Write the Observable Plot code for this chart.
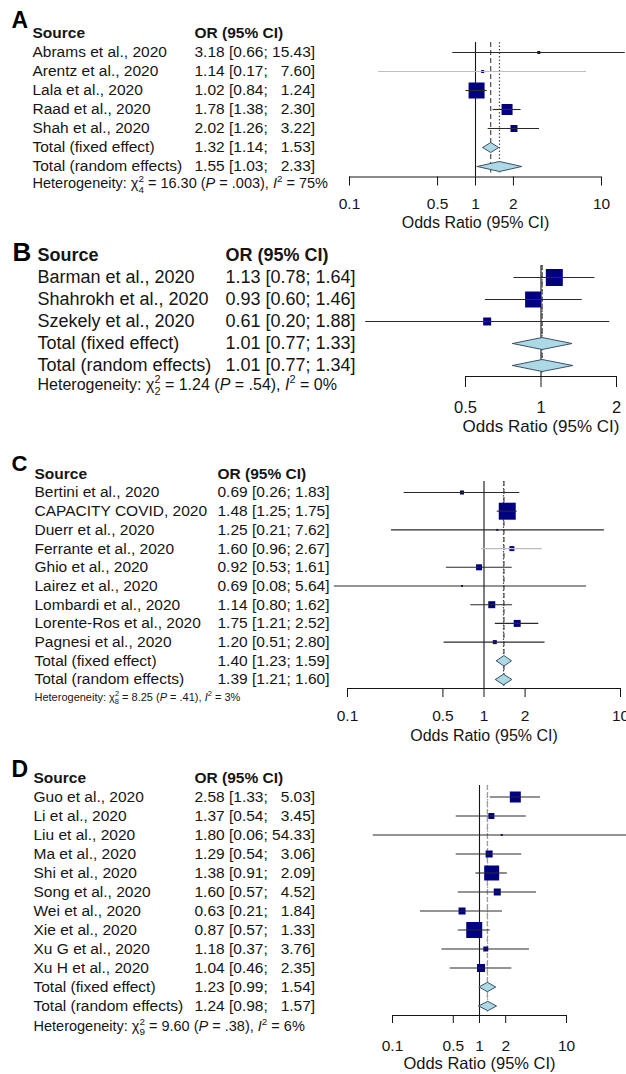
<!DOCTYPE html>
<html><head><meta charset="utf-8">
<script src="https://cdn.jsdelivr.net/npm/d3@7"></script>
<script src="https://cdn.jsdelivr.net/npm/@observablehq/plot@0.6"></script>
<style>
html,body{margin:0;padding:0;background:#fff;}
#chart{width:626px;}
#chart svg{display:block;}
</style></head><body><div id="chart"></div>
<script>
// ---------- Panel A ----------
const studiesA = ["Abrams et al., 2020","Arentz et al., 2020","Lala et al., 2020","Raad et al., 2020","Shah et al., 2020"];
const orA = [3.18,1.14,1.02,1.78,2.02];
const lowerA = [0.66,0.17,0.84,1.38,1.26];
const upperA = [15.43,7.60,1.24,2.30,3.22];
const weightA = [2.0,2.0,57.7,27.3,11.0];
const fixedA = [1.32,1.14,1.53];
const randomA = [1.55,1.03,2.33];
const hetA = ["4","16.30",".003","75%"];
const ticksA = [0.1,0.5,1,2,10];

// ---------- Panel B ----------
const studiesB = ["Barman et al., 2020","Shahrokh et al., 2020","Szekely et al., 2020"];
const orB = [1.13,0.93,0.61];
const lowerB = [0.78,0.60,0.20];
const upperB = [1.64,1.46,1.88];
const weightB = [47.5,42.0,10.5];
const fixedB = [1.01,0.77,1.33];
const randomB = [1.01,0.77,1.34];
const hetB = ["2","1.24",".54","0%"];
const ticksB = [0.5,1,2];

// ---------- Panel C ----------
const studiesC = ["Bertini et al., 2020","CAPACITY COVID, 2020","Duerr et al., 2020","Ferrante et al., 2020","Ghio et al., 2020","Lairez et al., 2020","Lombardi et al., 2020","Lorente-Ros et al., 2020","Pagnesi et al., 2020"];
const orC = [0.69,1.48,1.25,1.60,0.92,0.69,1.14,1.75,1.20];
const lowerC = [0.26,1.25,0.21,0.96,0.53,0.08,0.80,1.21,0.51];
const upperC = [1.83,1.75,7.62,2.67,1.61,5.64,1.62,2.52,2.80];
const weightC = [3.3,59.2,0.8,5.1,7.4,0.8,10.0,10.0,3.3];
const fixedC = [1.40,1.23,1.59];
const randomC = [1.39,1.21,1.60];
const hetC = ["8","8.25",".41","3%"];
const ticksC = [0.1,0.5,1,2,10];

// ---------- Panel D ----------
const studiesD = ["Guo et al., 2020","Li et al., 2020","Liu et al., 2020","Ma et al., 2020","Shi et al., 2020","Song et al., 2020","Wei et al., 2020","Xie et al., 2020","Xu G et al., 2020","Xu H et al., 2020"];
const orD = [2.58,1.37,1.80,1.29,1.38,1.60,0.63,0.87,1.18,1.04];
const lowerD = [1.33,0.54,0.06,0.54,0.91,0.57,0.21,0.57,0.37,0.46];
const upperD = [5.03,3.45,54.33,3.06,2.09,4.52,1.84,1.33,3.76,2.35];
const weightD = [13.8,4.1,0.5,5.6,25.6,5.6,5.6,29.2,2.8,7.3];
const fixedD = [1.23,0.99,1.54];
const randomD = [1.24,0.98,1.57];
const hetD = ["9","9.60",".38","6%"];
const ticksD = [0.1,0.5,1,2,10];

const faintCI = new Set(["Arentz et al., 2020","Ferrante et al., 2020"]);
const FONT = "'Liberation Sans', Arial, Helvetica, sans-serif";
const INK = "#151515";

function forest(letter, studies, or, lower, upper, weight, fixed, random, het, ticks, L) {
  const k = studies.length;
  const rows = studies.map((s, i) => ({y: i + 1, name: s, or: or[i], lo: lower[i], hi: upper[i], w: weight[i]}));
  const sums = [
    {y: k + 1, name: "Total (fixed effect)", or: fixed[0], lo: fixed[1], hi: fixed[2]},
    {y: k + 2, name: "Total (random effects)", or: random[0], lo: random[1], hi: random[2]}
  ];
  const all = rows.concat(sums);
  const hiLen = d3.max(all, d => d.hi.toFixed(2).length);
  const fmt = d => `${d.or.toFixed(2)} [${d.lo.toFixed(2)}; ${"\u00A0\u00A0".repeat(hiLen - d.hi.toFixed(2).length)}${d.hi.toFixed(2)}]`;
  const hd = L.diamond / L.step;
  const diamonds = sums.flatMap((d, j) => [
    {z: j, x: d.lo, y: d.y}, {z: j, x: d.or, y: d.y - hd}, {z: j, x: d.hi, y: d.y},
    {z: j, x: d.or, y: d.y + hd}, {z: j, x: d.lo, y: d.y}
  ]);
  const toRow = px => (px - L.header) / L.step;
  const axisRow = toRow(L.axis);
  const topRow = toRow(L.refTop);
  const dashEnd = k + 2 + (L.diamond + 1.5) / L.step;
  const x0 = ticks[0], x1 = ticks[ticks.length - 1];
  const dxName = L.colName - L.left, dxOR = L.colOR - L.left;

  const svg = Plot.plot({
    width: 626, height: L.height,
    marginLeft: L.left, marginRight: 626 - L.right, marginTop: 0, marginBottom: L.height - L.axis,
    style: {fontFamily: FONT, fontSize: L.tickFont + "px", color: INK, background: "#fff", overflow: "visible"},
    x: {type: "log", domain: [x0, x1], ticks: ticks, tickFormat: d => String(d), tickSize: L.tickSize, tickPadding: L.tickPad, label: null},
    y: {domain: [0, 1], range: [L.header, L.header + L.step], axis: null},
    r: {type: "sqrt", domain: [0, d3.max(weight)], range: [0, L.box / Math.sqrt(Math.PI)]},
    marks: [
      // reference lines
      Plot.ruleX([{x: 1, a: topRow, b: axisRow}], {x: "x", y1: "a", y2: "b", stroke: INK, strokeWidth: 1.1}),
      Plot.ruleX([{x: fixed[0], a: topRow, b: dashEnd}], {x: "x", y1: "a", y2: "b", stroke: L.dashColor, strokeWidth: 1.2, strokeDasharray: "5,3"}),
      Plot.ruleX([{x: random[0], a: topRow, b: dashEnd}], {x: "x", y1: "a", y2: "b", stroke: L.dashColor, strokeWidth: 1.2, strokeDasharray: "1.5,2"}),
      // axis line
      Plot.ruleY([{y: axisRow, a: x0, b: x1}], {y: "y", x1: "a", x2: "b", stroke: INK, strokeWidth: 1}),
      // study boxes
      Plot.dot(rows, {x: "or", y: "y", r: "w", symbol: "square", fill: "#000080", stroke: "none"}),
      // confidence intervals
      Plot.ruleY(rows.filter(d => !faintCI.has(d.name)), {y: "y", x1: "lo", x2: "hi", stroke: "#2a2a2a", strokeWidth: 1.1}),
      Plot.ruleY(rows.filter(d => faintCI.has(d.name)), {y: "y", x1: "lo", x2: "hi", stroke: "#bdbdbd", strokeWidth: 1.1}),
      // summary diamonds
      Plot.line(diamonds, {x: "x", y: "y", z: "z", fill: "#add8e6", stroke: "#3b5266", strokeWidth: 1, curve: "linear"}),
      // table text
      Plot.text([letter], {frameAnchor: "left", lineAnchor: "middle", y: () => 0, text: d => d, dx: L.letterX - L.left, dy: L.letterDy, textAnchor: "start", fontSize: L.letterFont, fontWeight: "bold", fill: "#000"}),
      Plot.text(["Source"], {frameAnchor: "left", lineAnchor: "middle", y: () => 0, text: d => d, dx: dxName, textAnchor: "start", fontSize: L.font, fontWeight: "bold", fill: INK}),
      Plot.text(["OR (95% CI)"], {frameAnchor: "left", lineAnchor: "middle", y: () => 0, text: d => d, dx: dxOR, textAnchor: "start", fontSize: L.font, fontWeight: "bold", fill: INK}),
      Plot.text(all, {frameAnchor: "left", lineAnchor: "middle", y: "y", text: "name", dx: dxName, textAnchor: "start", fontSize: L.font, fill: INK}),
      Plot.text(all, {frameAnchor: "left", lineAnchor: "middle", y: "y", text: fmt, dx: dxOR, textAnchor: "start", fontSize: L.font, fill: INK}),
      Plot.text(["Heterogeneity"], {frameAnchor: "left", lineAnchor: "middle", y: () => k + 2, text: d => d, dx: dxName, dy: L.hetDy, textAnchor: "start", fontSize: L.hetFont, fill: INK}),
      // x-axis title
      Plot.text(["Odds Ratio (95% CI)"], {frameAnchor: "bottom", lineAnchor: "middle", text: d => d, dy: L.titleDy, fontSize: L.titleFont, fill: INK})
    ]
  });

  // heterogeneity line with stacked super/subscript
  d3.select(svg).selectAll("text").filter(function () { return this.textContent === "Heterogeneity"; }).each(function () {
    const t = d3.select(this); t.text(null);
    const fs = L.hetFont, ss = fs * 0.68;
    t.append("tspan").text("Heterogeneity: \u03C7");
    t.append("tspan").attr("font-size", ss).attr("dy", -0.42 * fs).text("2");
    t.append("tspan").attr("font-size", ss).attr("dx", -0.556 * ss).attr("dy", 0.72 * fs).text(het[0]);
    t.append("tspan").attr("dy", -0.30 * fs).text(" = " + het[1] + " (");
    t.append("tspan").attr("font-style", "italic").text("P");
    t.append("tspan").text(" = " + het[2] + "), ");
    t.append("tspan").attr("font-style", "italic").text("I");
    t.append("tspan").attr("font-size", ss).attr("dy", -0.42 * fs).text("2");
    t.append("tspan").attr("dy", 0.42 * fs).text(" = " + het[3]);
  });
  return svg;
}

const LA = {height: 232, header: 33, step: 19, axis: 176.5, left: 349, right: 601, tickSize: 9, tickPad: 12, titleDy: 45.5,
  font: 15.5, tickFont: 15.5, titleFont: 16, hetFont: 14.5, hetDy: 17, colName: 32, colOR: 194,
  letterX: 11, letterDy: -13, letterFont: 23, box: 16, diamond: 5, refTop: 42, dashColor: "#4a4a4a"};
const LB = {height: 208, header: 23, step: 22, axis: 144, left: 465, right: 616, tickSize: 11, tickPad: 14, titleDy: 50,
  font: 18, tickFont: 16.5, titleFont: 17, hetFont: 16, hetDy: 19.5, colName: 37, colOR: 225,
  letterX: 12, letterDy: -3, letterFont: 26, box: 17, diamond: 6, refTop: 33, dashColor: "#4a4a4a"};
const LC = {height: 308, header: 33.3, step: 18.7, axis: 248, left: 347, right: 620, tickSize: 9, tickPad: 12.5, titleDy: 47,
  font: 15.5, tickFont: 15.5, titleFont: 16, hetFont: 11, hetDy: 18, colName: 34, colOR: 217,
  letterX: 11, letterDy: -10, letterFont: 22, box: 17, diamond: 5.3, refTop: 41, dashColor: "#4a4a4a"};
const LD = {height: 326, header: 29.5, step: 19, axis: 267, left: 392, right: 566, tickSize: 8, tickPad: 16.5, titleDy: 48,
  font: 15.5, tickFont: 15.5, titleFont: 16.5, hetFont: 14.5, hetDy: 20, colName: 33, colOR: 194,
  letterX: 11, letterDy: -8, letterFont: 23, box: 16, diamond: 4.7, refTop: 37, dashColor: "#9a9a9a"};

const chart = document.getElementById("chart");
chart.append(forest("A", studiesA, orA, lowerA, upperA, weightA, fixedA, randomA, hetA, ticksA, LA));
chart.append(forest("B", studiesB, orB, lowerB, upperB, weightB, fixedB, randomB, hetB, ticksB, LB));
chart.append(forest("C", studiesC, orC, lowerC, upperC, weightC, fixedC, randomC, hetC, ticksC, LC));
chart.append(forest("D", studiesD, orD, lowerD, upperD, weightD, fixedD, randomD, hetD, ticksD, LD));
</script></body></html>
